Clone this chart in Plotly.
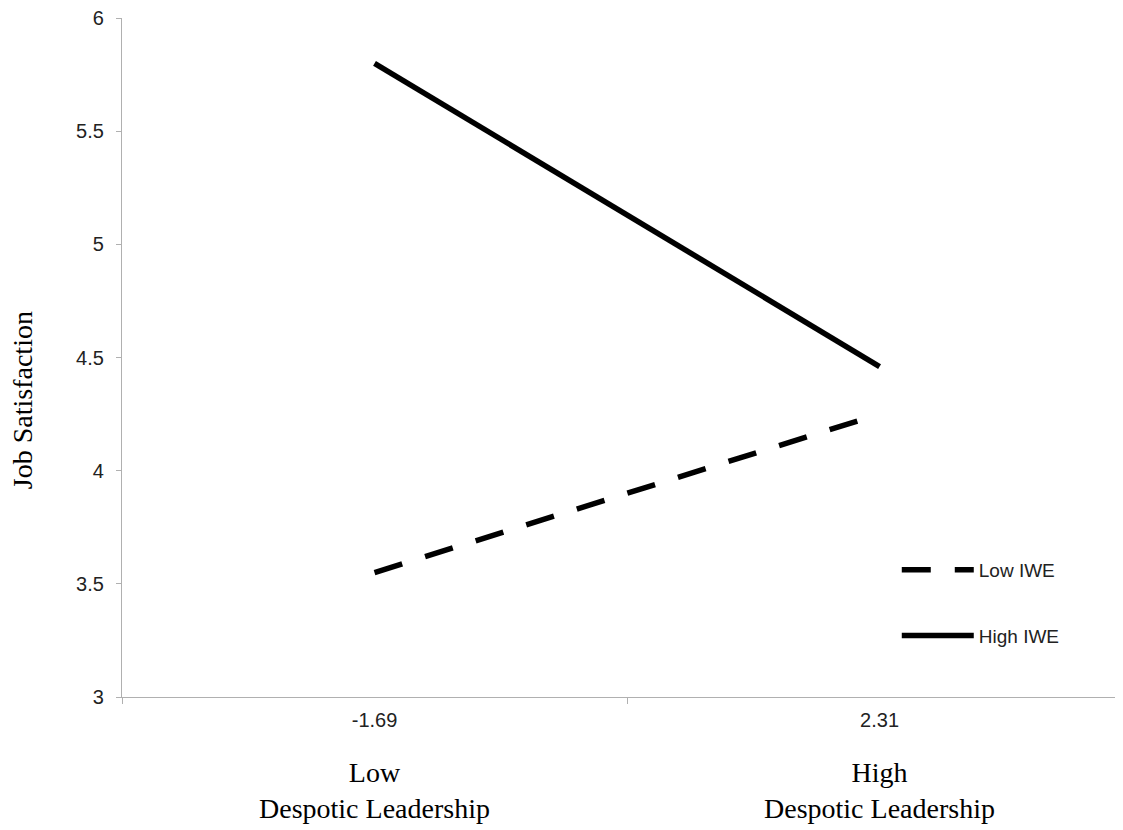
import plotly.graph_objects as go

categories = ["-1.69", "2.31"]
group_labels = ["Low<br>Despotic Leadership", "High<br>Despotic Leadership"]
low_iwe = [3.55, 4.25]
high_iwe = [5.80, 4.46]
y_ticks = [3, 3.5, 4, 4.5, 5, 5.5, 6]

fig = go.Figure()
fig.add_trace(go.Scatter(x=categories, y=low_iwe, mode="lines", name="Low IWE",
                         legendgroup="a",
                         line=dict(color="black", width=5.5, dash="29px,24px")))
fig.add_trace(go.Scatter(x=categories, y=high_iwe, mode="lines", name="High IWE",
                         legendgroup="b",
                         line=dict(color="black", width=5.5)))

for i, lab in enumerate(group_labels):
    fig.add_annotation(x=i, y=0, xref="x", yref="paper", yshift=-58, yanchor="top",
                       text=lab, showarrow=False,
                       font=dict(family="Liberation Serif", size=28, color="black"))

fig.add_annotation(x=-0.1, y=0.437, xref="paper", yref="paper", text="Job Satisfaction",
                   textangle=-90, showarrow=False, xanchor="center", yanchor="middle",
                   font=dict(family="Liberation Serif", size=28, color="black"))

fig.update_layout(
    width=1115, height=822,
    margin=dict(l=114, r=0, t=10, b=133),
    plot_bgcolor="white", paper_bgcolor="white",
    showlegend=True,
    legend=dict(x=0.774, y=0.215, xanchor="left", yanchor="top",
                font=dict(family="Liberation Sans", size=19, color="#222"),
                tracegroupgap=38, itemwidth=72, bgcolor="rgba(0,0,0,0)"),
    xaxis=dict(type="category", range=[-0.5, 1.482], showline=True, linecolor="#b0b0b0",
               linewidth=1.3, ticks="outside", tickson="boundaries", ticklen=6,
               tickcolor="#b0b0b0", showgrid=False, zeroline=False,
               ticklabelstandoff=5,
               tickfont=dict(family="Liberation Sans", size=20, color="#222")),
    yaxis=dict(range=[3, 6], tickvals=y_ticks, ticktext=[f"{v:g}" for v in y_ticks],
               showline=True, linecolor="#b0b0b0", linewidth=1.3, ticks="outside",
               ticklen=5, tickcolor="#b0b0b0", showgrid=False, zeroline=False,
               ticklabelstandoff=8, ticklabeloverflow="allow",
               tickfont=dict(family="Liberation Sans", size=20, color="#222")),
)

fig.write_html("out.html")
